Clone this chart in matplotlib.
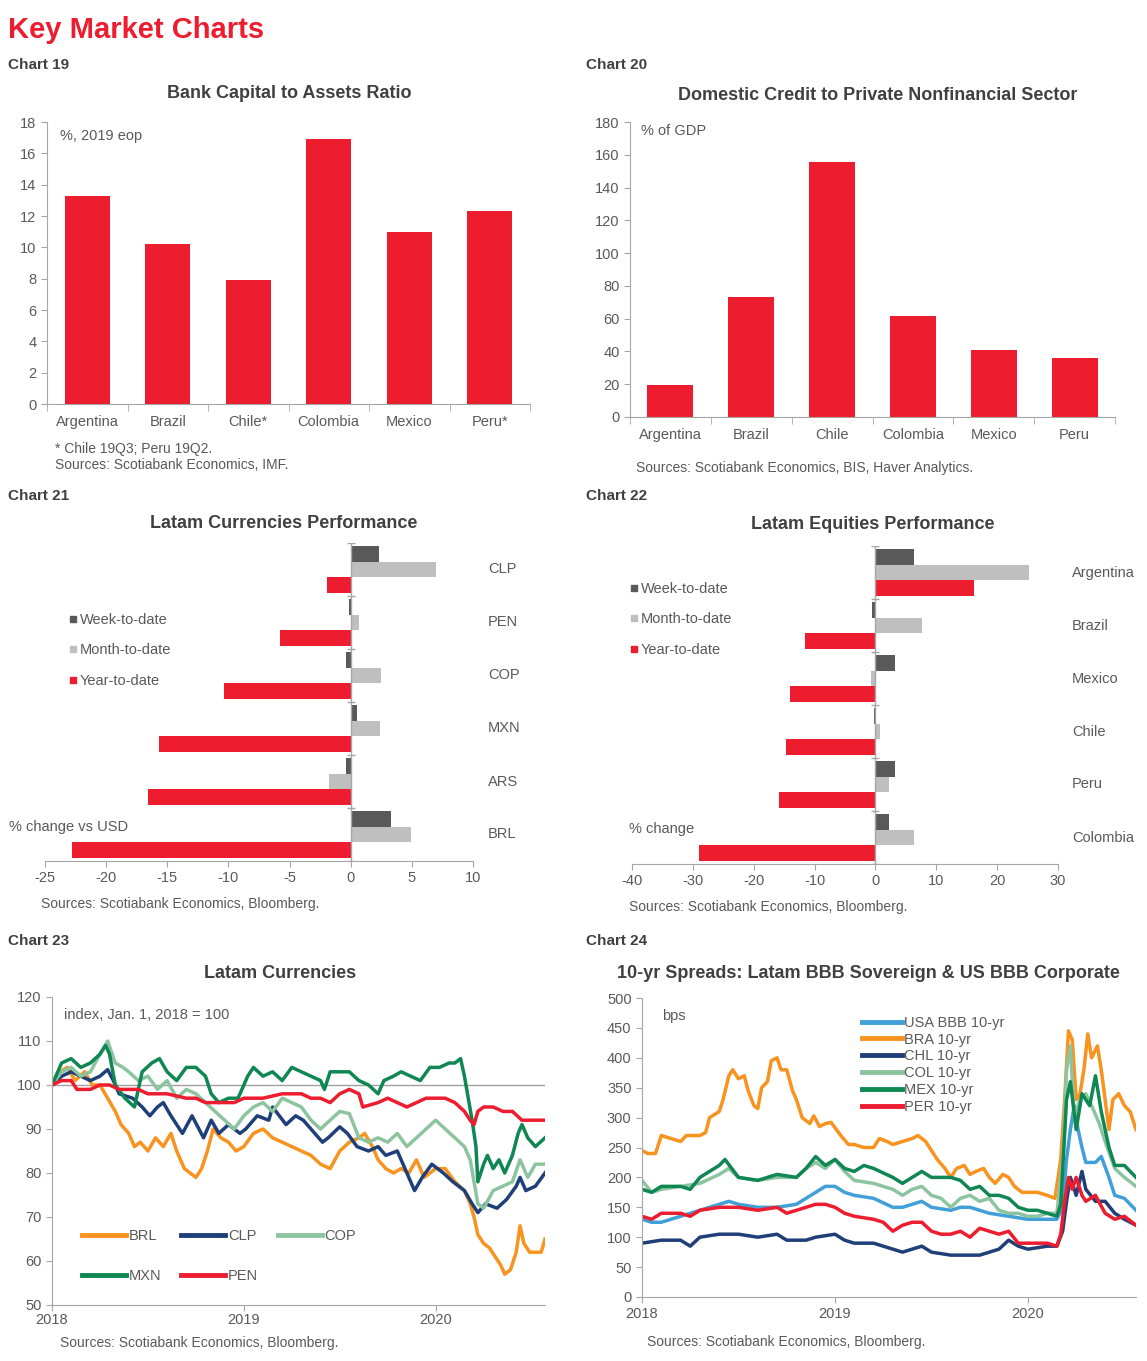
import matplotlib
matplotlib.use("Agg")
import matplotlib.pyplot as plt
from matplotlib.lines import Line2D
import numpy as np

plt.rcParams['font.family'] = ['Liberation Sans', 'DejaVu Sans']
plt.rcParams['axes.unicode_minus'] = False

W, H = 1147, 1361
RED = "#ED1C2E"
DARK = "#595959"
LIGHT = "#BFBFBF"
AXC = "#A6A6A6"
TXT = "#595959"
ORANGE = "#F7931E"
NAVY = "#1F3F78"
LGREEN = "#8CC4A0"
DGREEN = "#0F8752"
LBLUE = "#42A0D8"

# ---- chart 19 / 20 data
countries19 = ["Argentina", "Brazil", "Chile*", "Colombia", "Mexico", "Peru*"]
capital_ratio = [13.3, 10.2, 7.9, 16.9, 11.0, 12.3]
countries20 = ["Argentina", "Brazil", "Chile", "Colombia", "Mexico", "Peru"]
credit_gdp = [19.5, 73.5, 155.5, 61.5, 41.0, 36.0]

# ---- chart 21 data (top to bottom)
currencies = ["CLP", "PEN", "COP", "MXN", "ARS", "BRL"]
fx_week = [2.3, -0.1, -0.4, 0.5, -0.4, 3.3]
fx_month = [7.0, 0.7, 2.5, 2.4, -1.8, 4.9]
fx_year = [-1.9, -5.8, -10.4, -15.7, -16.6, -22.8]

# ---- chart 22 data (top to bottom)
markets = ["Argentina", "Brazil", "Mexico", "Chile", "Peru", "Colombia"]
eq_week = [6.4, -0.5, 3.2, -0.3, 3.2, 2.3]
eq_month = [25.3, 7.7, -0.7, 0.8, 2.3, 6.4]
eq_year = [16.2, -11.6, -14.1, -14.7, -15.9, -29.0]

# ---- chart 23 data (index, Jan 1 2018 = 100)
brl_t = [2018.0, 2018.04, 2018.08, 2018.12, 2018.17, 2018.21, 2018.25, 2018.29, 2018.33, 2018.36, 2018.4,
         2018.43, 2018.46, 2018.5, 2018.54, 2018.58, 2018.62, 2018.65, 2018.69, 2018.72, 2018.75, 2018.78,
         2018.81, 2018.84, 2018.88, 2018.92, 2018.96, 2019.0, 2019.05, 2019.1, 2019.15, 2019.2, 2019.25,
         2019.3, 2019.35, 2019.4, 2019.45, 2019.5, 2019.55, 2019.6, 2019.63, 2019.67, 2019.7, 2019.74,
         2019.78, 2019.82, 2019.86, 2019.9, 2019.94, 2020.0, 2020.05, 2020.1, 2020.15, 2020.18, 2020.2,
         2020.22, 2020.25, 2020.28, 2020.31, 2020.34, 2020.36, 2020.39, 2020.42, 2020.44, 2020.46, 2020.49,
         2020.52, 2020.55, 2020.57]
brl_v = [100, 103, 104, 101, 103, 100, 100, 97, 94, 91, 89,
         86, 87, 85, 88, 86, 89, 85, 81, 80, 79, 81,
         85, 90, 88, 87, 85, 86, 89, 90, 88, 87, 86,
         85, 84, 82, 81, 85, 87, 88, 89, 86, 83, 81,
         80, 81, 80, 83, 79, 81, 81, 78, 76, 73, 70,
         66, 64, 63, 61, 59, 57, 58, 62, 68, 64, 62,
         62, 62, 65]

clp_t = [2018.0, 2018.05, 2018.1, 2018.15, 2018.2, 2018.25, 2018.29, 2018.32, 2018.35, 2018.42, 2018.47,
         2018.51, 2018.55, 2018.58, 2018.62, 2018.68, 2018.73, 2018.79, 2018.83, 2018.87, 2018.92, 2018.98,
         2019.01, 2019.07, 2019.13, 2019.15, 2019.22, 2019.27, 2019.31, 2019.37, 2019.41, 2019.44, 2019.5,
         2019.54, 2019.59, 2019.65, 2019.7, 2019.74, 2019.8, 2019.85, 2019.89, 2019.93, 2019.98, 2020.04,
         2020.09, 2020.15, 2020.19, 2020.22, 2020.26, 2020.32, 2020.37, 2020.42, 2020.44, 2020.47, 2020.52,
         2020.57]
clp_v = [100, 102, 103, 102, 101, 102, 103.5, 101, 98, 97, 95,
         93, 95, 96, 93, 89, 93, 88, 92, 89, 91, 89,
         90, 93, 92, 95, 91, 93, 92, 89, 87, 88, 90.5,
         89, 86, 85, 86, 84, 85, 80, 76, 79, 82, 80,
         78, 76, 73, 71, 73, 72, 74, 77, 79, 76, 77,
         80]

cop_t = [2018.0, 2018.05, 2018.1, 2018.15, 2018.2, 2018.25, 2018.29, 2018.33, 2018.37, 2018.4, 2018.45,
         2018.5, 2018.55, 2018.6, 2018.65, 2018.7, 2018.75, 2018.8, 2018.85, 2018.9, 2018.95, 2019.0,
         2019.05, 2019.1, 2019.15, 2019.2, 2019.25, 2019.3, 2019.35, 2019.4, 2019.45, 2019.5, 2019.55,
         2019.6, 2019.65, 2019.7, 2019.75, 2019.8, 2019.85, 2019.9, 2019.95, 2020.0, 2020.05, 2020.1,
         2020.15, 2020.18, 2020.2, 2020.22, 2020.25, 2020.3, 2020.35, 2020.4, 2020.44, 2020.48, 2020.52,
         2020.57]
cop_v = [100, 103, 104, 102, 103, 107, 110, 105, 104, 103, 101,
         102, 99, 101, 97, 99, 98, 96, 94, 92, 90, 93,
         95, 96, 94, 97, 96, 95, 92, 90, 92, 94, 93.5,
         88, 87, 88, 87, 89, 86, 88, 90, 92, 90, 88,
         86, 83, 78, 73, 72, 76, 77, 78, 83, 79, 82,
         82]

mxn_t = [2018.0, 2018.05, 2018.1, 2018.15, 2018.2, 2018.25, 2018.28, 2018.3, 2018.33, 2018.38, 2018.43,
         2018.47, 2018.52, 2018.56, 2018.6, 2018.65, 2018.7, 2018.75, 2018.8, 2018.83, 2018.87, 2018.92,
         2018.97, 2019.02, 2019.05, 2019.1, 2019.15, 2019.2, 2019.25, 2019.3, 2019.35, 2019.4, 2019.42,
         2019.45, 2019.5, 2019.55, 2019.6, 2019.65, 2019.7, 2019.73, 2019.78, 2019.82, 2019.87, 2019.92,
         2019.97, 2020.02, 2020.07, 2020.1, 2020.13, 2020.15, 2020.17, 2020.19, 2020.21, 2020.22, 2020.25,
         2020.27, 2020.3, 2020.33, 2020.36, 2020.4, 2020.43, 2020.45, 2020.48, 2020.52, 2020.57]
mxn_v = [100, 105, 106, 104, 105, 107, 109, 107, 100, 97, 95,
         103, 105, 106, 103, 101, 104, 104, 102, 98, 96, 97,
         97, 102, 104, 102, 103, 101, 104, 103, 102, 101, 99,
         103, 103, 103, 101, 100, 98, 101, 102, 103, 102, 101,
         104, 104, 105, 105, 106, 102, 97, 92, 86, 78, 82,
         84, 81, 83, 80, 84, 89, 91, 88, 86, 88]

pen_t = [2018.0, 2018.05, 2018.1, 2018.13, 2018.2, 2018.25, 2018.3, 2018.35, 2018.4, 2018.45, 2018.5,
         2018.6, 2018.7, 2018.75, 2018.8, 2018.9, 2018.95, 2019.0, 2019.1, 2019.2, 2019.3, 2019.35,
         2019.4, 2019.45, 2019.5, 2019.55, 2019.6, 2019.62, 2019.7, 2019.75, 2019.8, 2019.85, 2019.9,
         2019.95, 2020.0, 2020.05, 2020.1, 2020.15, 2020.18, 2020.2, 2020.22, 2020.25, 2020.3, 2020.35,
         2020.4, 2020.45, 2020.5, 2020.57]
pen_v = [100, 101, 101, 99, 99, 100, 100, 99, 99, 99, 98,
         98, 97, 97, 96, 96, 96, 97, 97, 98, 98, 97,
         97, 96, 98, 99, 98, 95, 96, 97, 96, 95, 96,
         97, 97, 97, 96, 94, 92, 91, 94, 95, 95, 94,
         94, 92, 92, 92]

# ---- chart 24 data (bps)
usa_t = [2018.0, 2018.05, 2018.1, 2018.15, 2018.2, 2018.3, 2018.4, 2018.45, 2018.5, 2018.6, 2018.7,
         2018.8, 2018.85, 2018.9, 2018.95, 2019.0, 2019.05, 2019.1, 2019.2, 2019.3, 2019.35, 2019.4,
         2019.45, 2019.5, 2019.6, 2019.65, 2019.7, 2019.75, 2019.8, 2019.9, 2020.0, 2020.1, 2020.15,
         2020.18, 2020.2, 2020.22, 2020.24, 2020.26, 2020.28, 2020.3, 2020.35, 2020.38, 2020.42, 2020.45,
         2020.5, 2020.56]
usa_v = [130, 125, 125, 130, 135, 145, 155, 160, 155, 150, 150,
         155, 165, 175, 185, 185, 175, 170, 165, 150, 150, 155,
         160, 150, 145, 150, 150, 145, 140, 135, 130, 130, 130,
         150, 230, 280, 320, 280, 250, 225, 225, 235, 200, 170,
         165, 145]

bra_t = [2018.0, 2018.03, 2018.07, 2018.1, 2018.15, 2018.2, 2018.23, 2018.3, 2018.33, 2018.35, 2018.4,
         2018.42, 2018.45, 2018.47, 2018.5, 2018.53, 2018.55, 2018.58, 2018.6, 2018.62, 2018.65, 2018.67,
         2018.7, 2018.72, 2018.75, 2018.78, 2018.8, 2018.83, 2018.87, 2018.89, 2018.92, 2018.95, 2018.98,
         2019.03, 2019.07, 2019.1, 2019.15, 2019.2, 2019.23, 2019.27, 2019.3, 2019.35, 2019.4, 2019.43,
         2019.47, 2019.5, 2019.53, 2019.57, 2019.6, 2019.63, 2019.67, 2019.7, 2019.73, 2019.77, 2019.8,
         2019.83, 2019.87, 2019.9, 2019.93, 2019.97, 2020.0, 2020.05, 2020.1, 2020.14, 2020.17, 2020.19,
         2020.21, 2020.23, 2020.25, 2020.27, 2020.29, 2020.31, 2020.33, 2020.36, 2020.38, 2020.4, 2020.42,
         2020.44, 2020.47, 2020.5, 2020.53, 2020.56]
bra_v = [245, 240, 240, 270, 265, 260, 270, 270, 275, 300, 310,
         330, 370, 380, 365, 370, 345, 320, 315, 350, 360, 395,
         400, 380, 380, 345, 330, 300, 290, 303, 285, 290, 292,
         270, 255, 255, 250, 250, 265, 260, 255, 260, 265, 270,
         260, 245, 230, 215, 200, 215, 220, 205, 210, 215, 200,
         190, 205, 200, 185, 175, 175, 175, 170, 165, 230, 330,
         445, 430, 330, 340, 380, 440, 400, 420, 380, 330, 280,
         330, 340, 320, 310, 280]

chl_t = [2018.0, 2018.1, 2018.2, 2018.25, 2018.3, 2018.4, 2018.5, 2018.6, 2018.7, 2018.75, 2018.85,
         2018.9, 2019.0, 2019.05, 2019.1, 2019.2, 2019.3, 2019.35, 2019.4, 2019.45, 2019.5, 2019.6,
         2019.7, 2019.75, 2019.8, 2019.85, 2019.9, 2019.95, 2020.0, 2020.1, 2020.15, 2020.18, 2020.2,
         2020.22, 2020.25, 2020.28, 2020.3, 2020.35, 2020.4, 2020.45, 2020.5, 2020.56]
chl_v = [90, 95, 95, 85, 100, 105, 105, 100, 105, 95, 95,
         100, 105, 95, 90, 90, 80, 75, 80, 85, 75, 70,
         70, 70, 75, 80, 95, 85, 80, 85, 85, 110, 160,
         200, 170, 210, 180, 160, 160, 140, 130, 120]

col_t = [2018.0, 2018.05, 2018.1, 2018.2, 2018.3, 2018.4, 2018.45, 2018.5, 2018.6, 2018.7, 2018.8,
         2018.85, 2018.9, 2018.95, 2019.0, 2019.05, 2019.1, 2019.2, 2019.3, 2019.35, 2019.4, 2019.45,
         2019.5, 2019.55, 2019.6, 2019.65, 2019.7, 2019.75, 2019.8, 2019.85, 2019.9, 2019.95, 2020.0,
         2020.05, 2020.1, 2020.15, 2020.18, 2020.2, 2020.22, 2020.24, 2020.27, 2020.3, 2020.33, 2020.37,
         2020.4, 2020.45, 2020.5, 2020.56]
col_v = [195, 175, 180, 185, 190, 205, 215, 200, 195, 200, 200,
         215, 225, 215, 230, 210, 195, 190, 180, 170, 180, 185,
         170, 165, 150, 165, 170, 160, 165, 145, 140, 140, 135,
         135, 140, 140, 230, 380, 420, 300, 330, 340, 320, 290,
         260, 215, 200, 185]

mex_t = [2018.0, 2018.05, 2018.1, 2018.2, 2018.25, 2018.3, 2018.35, 2018.4, 2018.43, 2018.5, 2018.6,
         2018.7, 2018.8, 2018.85, 2018.9, 2018.95, 2019.0, 2019.05, 2019.1, 2019.15, 2019.2, 2019.3,
         2019.35, 2019.4, 2019.45, 2019.5, 2019.6, 2019.65, 2019.7, 2019.75, 2019.8, 2019.85, 2019.9,
         2019.95, 2020.0, 2020.05, 2020.1, 2020.15, 2020.17, 2020.2, 2020.22, 2020.25, 2020.28, 2020.32,
         2020.35, 2020.38, 2020.42, 2020.45, 2020.5, 2020.53, 2020.56]
mex_v = [180, 175, 185, 185, 180, 200, 210, 220, 230, 200, 195,
         205, 200, 215, 235, 220, 230, 215, 210, 220, 215, 200,
         190, 200, 210, 200, 200, 195, 180, 185, 170, 170, 165,
         150, 145, 145, 140, 135, 155, 330, 360, 280, 340, 320,
         370, 310, 250, 220, 220, 210, 200]

per_t = [2018.0, 2018.05, 2018.1, 2018.2, 2018.25, 2018.3, 2018.4, 2018.5, 2018.6, 2018.7, 2018.75,
         2018.8, 2018.85, 2018.9, 2018.95, 2019.0, 2019.05, 2019.1, 2019.2, 2019.25, 2019.3, 2019.35,
         2019.4, 2019.45, 2019.5, 2019.55, 2019.6, 2019.65, 2019.7, 2019.75, 2019.8, 2019.85, 2019.9,
         2019.95, 2020.0, 2020.1, 2020.15, 2020.17, 2020.19, 2020.21, 2020.23, 2020.25, 2020.28, 2020.3,
         2020.35, 2020.4, 2020.45, 2020.5, 2020.56]
per_v = [135, 130, 140, 140, 135, 145, 150, 150, 145, 150, 140,
         145, 150, 155, 155, 150, 140, 135, 130, 125, 110, 120,
         125, 125, 110, 105, 105, 110, 100, 115, 110, 105, 110,
         90, 90, 90, 85, 105, 160, 200, 180, 200, 170, 160,
         170, 140, 130, 135, 120]


fig = plt.figure(figsize=(W / 100, H / 100), dpi=100)


def px_axes(left, top, right, bottom):
    return fig.add_axes([left / W, 1 - bottom / H, (right - left) / W, (bottom - top) / H])


def ftext(x, y, s, **kw):
    kw.setdefault("color", TXT)
    kw.setdefault("fontsize", 10.5)
    kw.setdefault("va", "center")
    fig.text(x / W, 1 - y / H, s, **kw)


def style(ax):
    for side in ["top", "right"]:
        ax.spines[side].set_visible(False)
    for side in ["left", "bottom"]:
        ax.spines[side].set_color(AXC)
    ax.tick_params(colors=AXC, labelcolor=TXT, labelsize=10.5, length=4)


ftext(8, 30, "Key Market Charts", color=RED, fontsize=21, fontweight="bold")
for x, y, s in [(8, 65, "Chart 19"), (586, 65, "Chart 20"), (8, 496, "Chart 21"),
                (586, 496, "Chart 22"), (8, 941, "Chart 23"), (586, 941, "Chart 24")]:
    ftext(x, y, s, color="#404040", fontsize=11, fontweight="bold")

titles = [(289, 94, "Bank Capital to Assets Ratio"),
          (878, 95, "Domestic Credit to Private Nonfinancial Sector"),
          (284, 523, "Latam Currencies Performance"),
          (873, 524, "Latam Equities Performance"),
          (280, 974, "Latam Currencies"),
          (868, 973, "10-yr Spreads: Latam BBB Sovereign & US BBB Corporate")]
for x, y, s in titles:
    ftext(x, y, s, color="#404040", fontsize=13, fontweight="bold", ha="center")

# ---------------- Chart 19
ax = px_axes(47, 122, 530, 404)
style(ax)
x = np.arange(len(countries19))
ax.bar(x, capital_ratio, width=0.56, color=RED)
ax.set_xlim(-0.5, len(countries19) - 0.5)
ax.set_ylim(0, 18)
ax.set_yticks(range(0, 19, 2))
ax.set_xticks(x)
ax.set_xticklabels(countries19)
ax.set_xticks(np.arange(-0.5, len(countries19), 1), minor=True)
ax.tick_params(axis="x", which="major", length=0, pad=8)
ax.tick_params(axis="x", which="minor", length=5, color=AXC)
ax.text(0.027, 0.95, "%, 2019 eop", transform=ax.transAxes, color=TXT, fontsize=10.5, va="center")
ftext(55, 449, "* Chile 19Q3; Peru 19Q2.", fontsize=10)
ftext(55, 465, "Sources: Scotiabank Economics, IMF.", fontsize=10)

# ---------------- Chart 20
ax = px_axes(630, 122, 1115, 417)
style(ax)
x = np.arange(len(countries20))
ax.bar(x, credit_gdp, width=0.57, color=RED)
ax.set_xlim(-0.5, len(countries20) - 0.5)
ax.set_ylim(0, 180)
ax.set_yticks(range(0, 181, 20))
ax.set_xticks(x)
ax.set_xticklabels(countries20)
ax.set_xticks(np.arange(-0.5, len(countries20), 1), minor=True)
ax.tick_params(axis="x", which="major", length=0, pad=8)
ax.tick_params(axis="x", which="minor", length=5, color=AXC)
ax.text(0.023, 0.97, "% of GDP", transform=ax.transAxes, color=TXT, fontsize=10.5, va="center")
ftext(636, 468, "Sources: Scotiabank Economics, BIS, Haver Analytics.", fontsize=10)


# ---------------- Chart 21 / 22 horizontal bars
def hbars(ax, labels, wk, mo, yr, xlim, step, label_x):
    style(ax)
    ax.spines["left"].set_visible(False)
    n = len(labels)
    pos = np.arange(n)
    h = 0.29
    ax.barh(pos - h, wk, height=h, color=DARK, label="Week-to-date")
    ax.barh(pos, mo, height=h, color=LIGHT, label="Month-to-date")
    ax.barh(pos + h, yr, height=h, color=RED, label="Year-to-date")
    ax.set_ylim(n - 0.5, -0.5)
    ax.set_xlim(*xlim)
    ax.set_xticks(range(xlim[0], xlim[1] + 1, step))
    ax.set_yticks([])
    ax.axvline(0, color=AXC, lw=1)
    ax.plot(np.zeros(n + 1), np.arange(n + 1) - 0.5, ls="none", marker="_", ms=6, color=AXC)
    tr = ax.get_yaxis_transform()
    for p, lab in zip(pos, labels):
        ax.text(label_x, p, lab, transform=tr, color=TXT, fontsize=10.5, va="center")


handles = [Line2D([], [], ls="none", marker="s", ms=5, color=c) for c in (DARK, LIGHT, RED)]
legend_labels = ["Week-to-date", "Month-to-date", "Year-to-date"]

ax = px_axes(45, 543, 473, 861)
hbars(ax, currencies, fx_week, fx_month, fx_year, (-25, 10), 5, 1.035)
ax.legend(handles, legend_labels, loc="upper left",
          bbox_to_anchor=((55 - 45) / 428, 1 - (600 - 543) / 318), frameon=False, fontsize=10.5,
          handlelength=0.6, handletextpad=0.2, labelspacing=1.12, labelcolor=TXT)
ftext(9, 827, "% change vs USD")
ftext(41, 904, "Sources: Scotiabank Economics, Bloomberg.", fontsize=10)

ax = px_axes(632, 546, 1058, 864)
hbars(ax, markets, eq_week, eq_month, eq_year, (-40, 30), 10, 1.033)
ax.legend(handles, legend_labels, loc="upper left",
          bbox_to_anchor=((616 - 632) / 426, 1 - (569 - 546) / 318), frameon=False, fontsize=10.5,
          handlelength=0.6, handletextpad=0.2, labelspacing=1.12, labelcolor=TXT)
ax.text((629 - 632) / 426, 1 - (829 - 546) / 318, "% change", transform=ax.transAxes,
        color=TXT, fontsize=10.5, va="center")
ftext(629, 907, "Sources: Scotiabank Economics, Bloomberg.", fontsize=10)

# ---------------- Chart 23
ax = px_axes(52, 997, 545, 1305)
style(ax)
ax.axhline(100, color="#A0A0A0", lw=1)
lines = {}
for name, t, v, c in [("BRL", brl_t, brl_v, ORANGE), ("CLP", clp_t, clp_v, NAVY),
                      ("COP", cop_t, cop_v, LGREEN), ("MXN", mxn_t, mxn_v, DGREEN),
                      ("PEN", pen_t, pen_v, RED)]:
    lines[name], = ax.plot(t, v, color=c, lw=2.5, label=name)
ax.set_xlim(2018, 2020.57)
ax.set_ylim(50, 120)
ax.set_yticks(range(50, 121, 10))
ax.set_xticks([2018, 2019, 2020])
ax.set_xticklabels(["2018", "2019", "2020"])
ax.tick_params(axis="x", pad=2)
order = ["BRL", "MXN", "CLP", "PEN", "COP"]
leg = ax.legend([lines[k] for k in order], order, ncol=3, loc="upper left",
                bbox_to_anchor=(0.035, 0.29), frameon=False, fontsize=10.5, handlelength=3.0,
                handletextpad=0.2, columnspacing=1.35, labelspacing=1.8, labelcolor=TXT)
for lh in leg.get_lines():
    lh.set_linewidth(3.5)
ax.text(0.025, 0.94, "index, Jan. 1, 2018 = 100", transform=ax.transAxes, color=TXT,
        fontsize=10.5, va="center")
ftext(60, 1343, "Sources: Scotiabank Economics, Bloomberg.", fontsize=10)

# ---------------- Chart 24
ax = px_axes(642, 998, 1136, 1297)
style(ax)
for name, t, v, c in [("USA BBB 10-yr", usa_t, usa_v, LBLUE), ("BRA 10-yr", bra_t, bra_v, ORANGE),
                      ("CHL 10-yr", chl_t, chl_v, NAVY), ("COL 10-yr", col_t, col_v, LGREEN),
                      ("MEX 10-yr", mex_t, mex_v, DGREEN), ("PER 10-yr", per_t, per_v, RED)]:
    ax.plot(t, v, color=c, lw=2.5, label=name)
ax.set_xlim(2018, 2020.56)
ax.set_ylim(0, 500)
ax.set_yticks(range(0, 501, 50))
ax.set_xticks([2018, 2019, 2020])
ax.set_xticklabels(["2018", "2019", "2020"])
leg = ax.legend(loc="upper left", bbox_to_anchor=(0.418, 0.985), frameon=False, fontsize=10.5,
                handlelength=2.8, handletextpad=0.1, labelspacing=0.2, labelcolor=TXT)
for lh in leg.get_lines():
    lh.set_linewidth(3.5)
ax.text(0.04, 0.94, "bps", transform=ax.transAxes, color=TXT, fontsize=10.5, va="center")
ftext(647, 1342, "Sources: Scotiabank Economics, Bloomberg.", fontsize=10)

fig.savefig("out.png", dpi=100)
